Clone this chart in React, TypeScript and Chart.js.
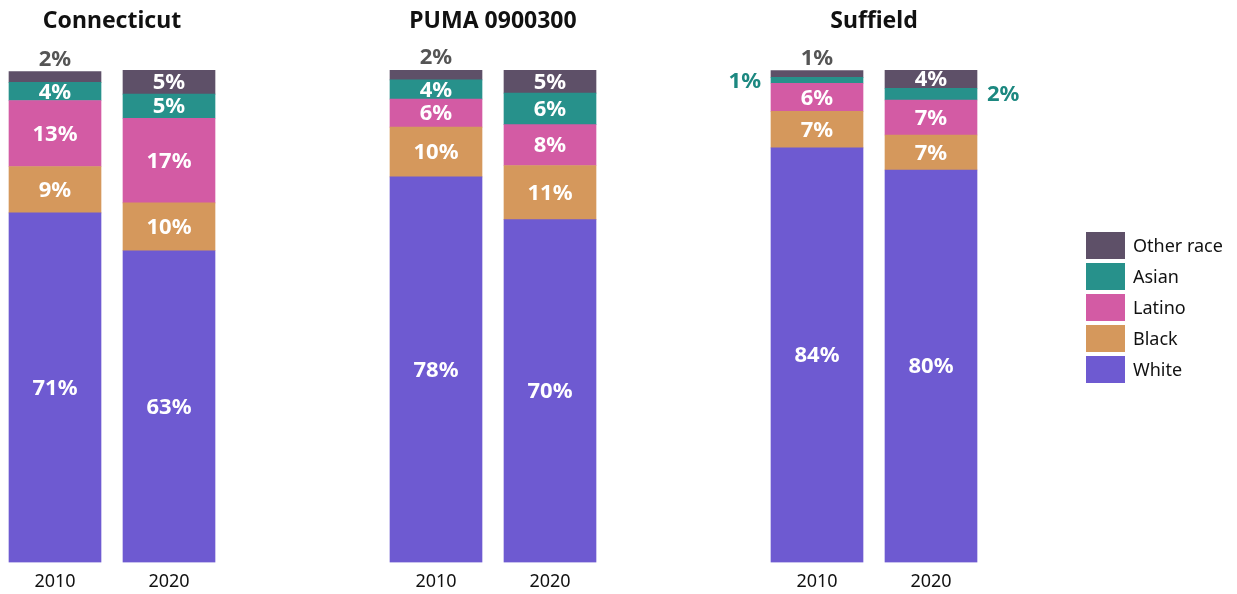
import React, { useEffect, useRef } from "react";
import { Chart, registerables } from "chart.js";

Chart.register(...registerables);

const FONT = "'Noto Sans', 'Open Sans', sans-serif";

// Categories
const regions = ["Connecticut", "PUMA 0900300", "Suffield"];
const years = ["2010", "2020"];
const raceLabels = ["White", "Black", "Latino", "Asian", "Other race"];
const raceColors = ["#6e5ad1", "#d5985c", "#d35ba4", "#27918b", "#5e5068"];

// Values in percent: [2010, 2020] per region
const whiteValues = [
  [71.0, 63.3],
  [78.3, 69.6],
  [84.2, 79.7],
];
const blackValues = [
  [9.4, 9.7],
  [10.1, 11.0],
  [7.4, 7.1],
];
const latinoValues = [
  [13.4, 17.2],
  [5.7, 8.3],
  [5.7, 7.1],
];
const asianValues = [
  [3.7, 4.9],
  [3.9, 6.4],
  [1.2, 2.4],
];
const otherValues = [
  [2.2, 4.9],
  [2.0, 4.7],
  [1.4, 3.7],
];

const seriesValues = [whiteValues, blackValues, latinoValues, asianValues, otherValues];

const PAGE_W = 1237;
const PAGE_H = 594;
const CANVAS_H = 602;
const PANEL_STEP = 381;
const FIRST_CENTER = 112;
const HALF_AREA = 114;
const PAD_LEFT = 76;

const segmentLabels = {
  id: "segmentLabels",
  afterDatasetsDraw(chart: any) {
    const ctx = chart.ctx;
    ctx.save();
    ctx.font = `bold 22px ${FONT}`;
    ctx.textBaseline = "middle";
    chart.data.datasets.forEach((ds: any, di: number) => {
      const meta = chart.getDatasetMeta(di);
      meta.data.forEach((bar: any, i: number) => {
        const v = ds.data[i] as number;
        const p = bar.getProps(["x", "y", "base", "width"], true);
        const top = Math.min(p.y, p.base);
        const bottom = Math.max(p.y, p.base);
        const h = bottom - top;
        const text = Math.round(v) + "%";
        if (h >= 15) {
          ctx.fillStyle = "#ffffff";
          ctx.textAlign = "center";
          ctx.fillText(text, p.x, (top + bottom) / 2 + 1);
        } else if (ds.label === "Other race") {
          ctx.fillStyle = "#555555";
          ctx.textAlign = "center";
          ctx.fillText(text, p.x, top - 12);
        } else {
          ctx.fillStyle = "#1c8880";
          if (i === 0) {
            ctx.textAlign = "right";
            ctx.fillText(text, p.x - p.width / 2 - 10, (top + bottom) / 2 + 1);
          } else {
            ctx.textAlign = "left";
            ctx.fillText(text, p.x + p.width / 2 + 10, (top + bottom) / 2 + 1);
          }
        }
      });
    });
    ctx.restore();
  },
};

const sideLegend = {
  id: "sideLegend",
  afterDraw(chart: any, _args: any, opts: any) {
    if (!opts || !opts.show) return;
    const ctx = chart.ctx;
    const area = chart.chartArea;
    const boxW = 39;
    const boxH = 27;
    const step = 31;
    const x0 = area.right + 98;
    const y0 = area.top + 162;
    const items = chart.data.datasets.slice().reverse();
    ctx.save();
    ctx.font = `18px ${FONT}`;
    ctx.textBaseline = "middle";
    ctx.textAlign = "left";
    items.forEach((ds: any, k: number) => {
      const y = y0 + k * step;
      ctx.fillStyle = ds.backgroundColor;
      ctx.fillRect(x0, y, boxW, boxH);
      ctx.fillStyle = "#111111";
      ctx.fillText(ds.label, x0 + boxW + 8, y + boxH / 2 + 1);
    });
    ctx.restore();
  },
};

function Panel({ index, withLegend }: { index: number; withLegend: boolean }) {
  const ref = useRef<HTMLCanvasElement | null>(null);
  const center = FIRST_CENTER + PANEL_STEP * index;
  const left = center - HALF_AREA - PAD_LEFT;
  const width = withLegend ? PAGE_W - left : PANEL_STEP;
  const padRight = width - PAD_LEFT - 2 * HALF_AREA;

  useEffect(() => {
    if (!ref.current) return;
    const chart = new Chart(ref.current, {
      type: "bar",
      data: {
        labels: years,
        datasets: raceLabels.map((label, k) => ({
          label,
          data: seriesValues[k][index],
          backgroundColor: raceColors[k],
          borderWidth: 0,
          barThickness: 92,
        })),
      },
      options: {
        responsive: false,
        animation: false,
        layout: { padding: { left: PAD_LEFT, right: padRight, top: 0, bottom: 0 } },
        plugins: {
          legend: { display: false },
          tooltip: { enabled: false },
          title: {
            display: true,
            text: regions[index],
            color: "#111111",
            font: { family: FONT, size: 23, weight: "bold" },
            padding: { top: 8, bottom: 34.4 },
          },
          sideLegend: { show: withLegend },
        } as any,
        scales: {
          x: {
            stacked: true,
            grid: { display: false, drawTicks: false },
            border: { display: false },
            ticks: { color: "#111111", font: { family: FONT, size: 18 }, padding: 9 },
          },
          y: {
            stacked: true,
            display: false,
            min: 0,
            max: 100,
          },
        },
      },
      plugins: [segmentLabels, sideLegend],
    });
    return () => chart.destroy();
  }, [index, withLegend, padRight]);

  return (
    <div style={{ position: "absolute", left, top: 0, width, height: CANVAS_H }}>
      <canvas ref={ref} width={width} height={CANVAS_H} style={{ display: "block" }} />
    </div>
  );
}

export default function App() {
  return (
    <div
      style={{
        position: "fixed",
        left: 0,
        top: 0,
        width: PAGE_W,
        height: PAGE_H,
        overflow: "hidden",
        background: "#ffffff",
      }}
    >
      {regions.map((r, i) => (
        <Panel key={r} index={i} withLegend={i === regions.length - 1} />
      ))}
    </div>
  );
}
